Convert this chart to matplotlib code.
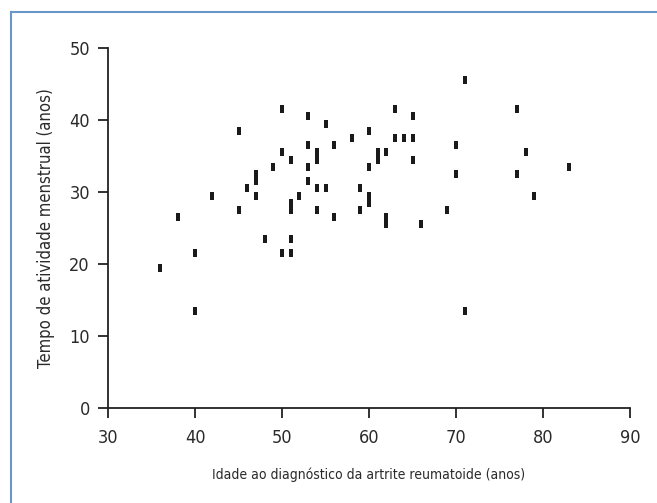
import matplotlib
matplotlib.use("Agg")
import matplotlib.pyplot as plt
from matplotlib.lines import Line2D

plt.rcParams['font.family'] = ['DejaVu Sans']
plt.rcParams['font.stretch'] = 'condensed'

# idade ao diagnóstico (anos) e tempo de atividade menstrual (anos)
idade = [36, 38, 40, 40, 42, 45, 45, 46, 47, 47, 47, 48, 49, 50, 50, 50,
         51, 51, 51, 51, 51, 52, 53, 53, 53, 53, 54, 54, 54, 54, 55, 55,
         56, 56, 58, 59, 59, 59, 60, 60, 60, 60, 61, 61, 62, 62, 62, 63,
         63, 64, 65, 65, 65, 66, 69, 70, 70, 71, 71, 77, 77, 78, 79, 83]
tempo = [19.5, 26.5, 21.5, 13.5, 29.5, 38.5, 27.5, 30.5, 32.5, 31.5, 29.5,
         23.5, 33.5, 41.5, 35.5, 21.5, 34.5, 28.5, 27.5, 23.5, 21.5, 29.5,
         40.5, 36.5, 33.5, 31.5, 35.5, 34.5, 30.5, 27.5, 39.5, 30.5, 36.5,
         26.5, 37.5, 30.5, 27.5, 27.5, 38.5, 33.5, 29.5, 28.5, 35.5, 34.5,
         35.5, 26.5, 25.5, 41.5, 37.5, 37.5, 40.5, 37.5, 34.5, 25.5, 27.5,
         36.5, 32.5, 45.5, 13.5, 41.5, 32.5, 35.5, 29.5, 33.5]

fig = plt.figure(figsize=(6.57, 5.03), dpi=100)
ax = fig.add_axes([0.1644, 0.1889, 0.7945, 0.7157])

# marcador retangular vertical
barra = [(-0.21, -0.5), (0.21, -0.5), (0.21, 0.5), (-0.21, 0.5), (-0.21, -0.5)]
ax.plot(idade, tempo, linestyle='none', marker=barra, markersize=5.2,
        color='#1a1a1a', markeredgewidth=0, clip_on=False)

ax.set_xlim(30, 90)
ax.set_ylim(0, 50)
ax.set_xticks(range(30, 91, 10))
ax.set_yticks(range(0, 51, 10))
for s in ['top', 'right']:
    ax.spines[s].set_visible(False)
for s in ['left', 'bottom']:
    ax.spines[s].set_linewidth(1.3)
    ax.spines[s].set_color('#222222')
ax.tick_params(direction='out', length=7, width=1.3, color='#222222',
               labelsize=13, labelcolor='#2a2a2a')
ax.tick_params(axis='x', pad=8)
ax.tick_params(axis='y', pad=6)

ax.set_xlabel('Idade ao diagnóstico da artrite reumatoide (anos)',
              fontsize=10, color='#2a2a2a', labelpad=15)
ax.set_ylabel('Tempo de atividade menstrual (anos)',
              fontsize=12, color='#2a2a2a', labelpad=10)

# moldura azul (apenas topo e esquerda)
fig.add_artist(Line2D([11 / 657, 1], [1 - 12 / 503, 1 - 12 / 503],
                      transform=fig.transFigure, color='#6b97c8', lw=1.5))
fig.add_artist(Line2D([11 / 657, 11 / 657], [0, 1 - 12 / 503],
                      transform=fig.transFigure, color='#6b97c8', lw=1.5))

fig.savefig('out.png', dpi=100)
